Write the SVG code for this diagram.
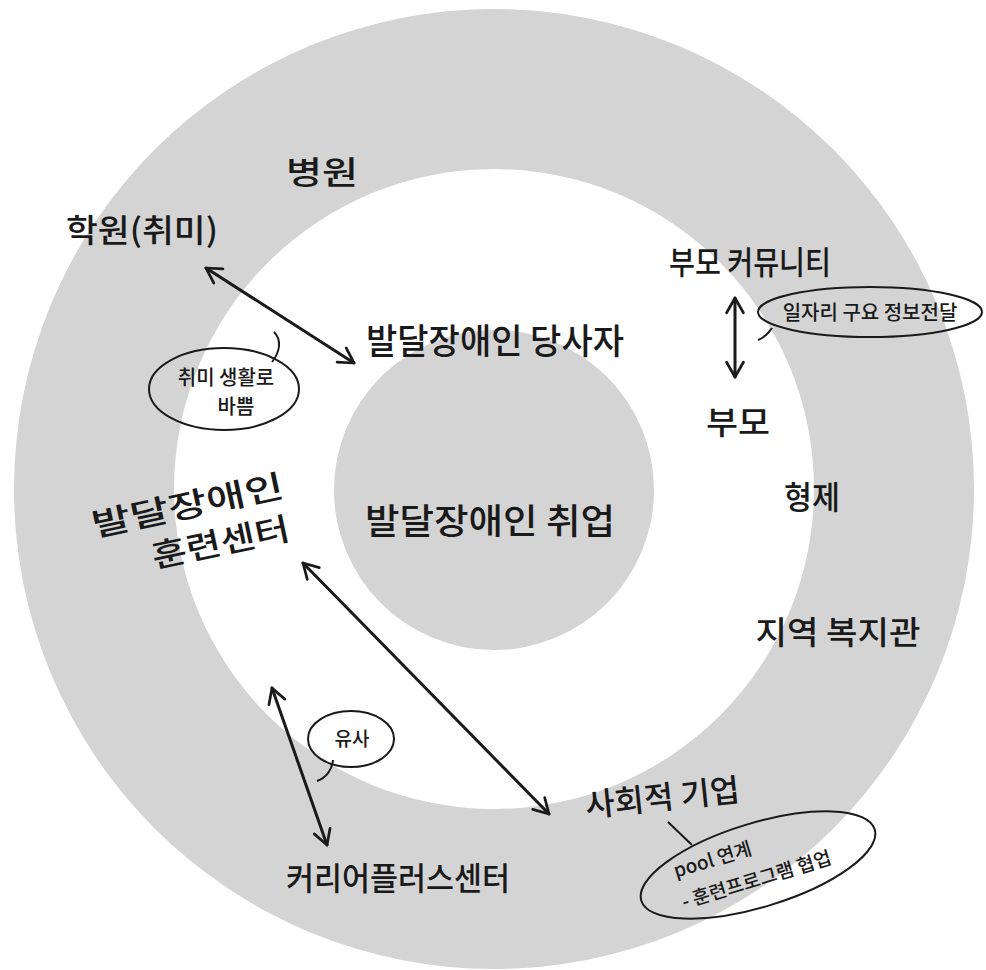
<svg xmlns="http://www.w3.org/2000/svg" width="986" height="970" viewBox="0 0 986 970">
<defs>
<marker id="ah" viewBox="0 0 20 20" refX="18" refY="10" markerWidth="7" markerHeight="7" markerUnits="strokeWidth" orient="auto-start-reverse">
<path d="M4,2 L18,10 L4,18" fill="none" stroke="#1a1a1a" stroke-width="2.6" stroke-linecap="round" stroke-linejoin="round"/>
</marker>
<style>
.t{font-family:"Noto Sans CJK KR","Noto Sans",sans-serif;fill:#1a1a1a;text-anchor:middle;dominant-baseline:central;font-weight:500}
.l{font-size:32px}
.xl{font-size:35px}
.m{font-size:20px}
.s{font-size:19px}
.bub{fill:none;stroke:#1a1a1a;stroke-width:2}
.arr{fill:none;stroke:#1a1a1a;stroke-width:3;stroke-linecap:round;marker-start:url(#ah);marker-end:url(#ah)}
</style>
</defs>
<rect width="986" height="970" fill="#ffffff"/>
<g id="rings">
<circle cx="494" cy="489" r="480" fill="#d4d4d4"/>
<circle cx="494" cy="489" r="320" fill="#ffffff"/>
<circle cx="494" cy="490" r="160" fill="#d4d4d4"/>
</g>
<g id="connectors">
<line class="arr" x1="206" y1="268" x2="354" y2="363"/>
<line class="arr" x1="735" y1="298" x2="735" y2="377"/>
<line class="arr" x1="303" y1="563" x2="549" y2="814"/>
<line class="arr" x1="272" y1="688" x2="327" y2="845"/>
</g>
<g id="center"><text class="t xl" x="490" y="518" textLength="250" lengthAdjust="spacingAndGlyphs">발달장애인 취업</text></g>
<g id="self"><text class="t xl" x="495" y="338" textLength="258" lengthAdjust="spacingAndGlyphs">발달장애인 당사자</text></g>
<g id="hospital"><text class="t l" x="322" y="170" textLength="72" lengthAdjust="spacingAndGlyphs">병원</text></g>
<g id="academy"><text class="t l" x="142" y="228" textLength="152" lengthAdjust="spacingAndGlyphs">학원(취미)</text></g>
<g id="hobby-note">
<ellipse class="bub" cx="224" cy="389" rx="75" ry="41"/>
<path class="bub" d="M272,362 C280,352 282,340 274,332"/>
<text class="t m" x="226" y="376">취미 생활로</text>
<text class="t m" x="236" y="405">바쁨</text>
</g>
<g id="training-center">
<text class="t l" transform="translate(187,503) rotate(-12)" textLength="195" lengthAdjust="spacingAndGlyphs">발달장애인</text>
<text class="t l" transform="translate(220,540) rotate(-12)" textLength="140" lengthAdjust="spacingAndGlyphs">훈련센터</text>
</g>
<g id="parent-community"><text class="t l" x="750" y="260" textLength="162" lengthAdjust="spacingAndGlyphs">부모 커뮤니티</text></g>
<g id="job-note">
<ellipse class="bub" cx="870" cy="312" rx="112" ry="25"/>
<path class="bub" d="M772,328 C768,334 763,338 758,340"/>
<text class="t m" x="870" y="311">일자리 구요 정보전달</text>
</g>
<g id="parents"><text class="t l" x="738" y="420" textLength="64" lengthAdjust="spacingAndGlyphs">부모</text></g>
<g id="siblings"><text class="t l" x="812" y="495" textLength="56" lengthAdjust="spacingAndGlyphs">형제</text></g>
<g id="welfare"><text class="t l" x="838" y="630" textLength="165" lengthAdjust="spacingAndGlyphs">지역 복지관</text></g>
<g id="social-enterprise"><text class="t l" transform="translate(662,795) rotate(-6)" textLength="155" lengthAdjust="spacingAndGlyphs">사회적 기업</text></g>
<g id="se-note">
<ellipse class="bub" cx="758" cy="865" rx="122" ry="42" transform="rotate(-17 758 865)"/>
<path class="bub" d="M668,822 L692,845"/>
<text class="t s" transform="translate(712,858) rotate(-17)">pool 연계</text>
<text class="t s" transform="translate(756,878) rotate(-17)">- 훈련프로그램 협업</text>
</g>
<g id="similar-note">
<ellipse class="bub" cx="351" cy="739" rx="43" ry="28"/>
<path class="bub" d="M333,760 C332,770 326,778 317,781"/>
<text class="t s" x="352" y="737">유사</text>
</g>
<g id="career-plus"><text class="t l" x="398" y="876" textLength="224" lengthAdjust="spacingAndGlyphs">커리어플러스센터</text></g>
</svg>
